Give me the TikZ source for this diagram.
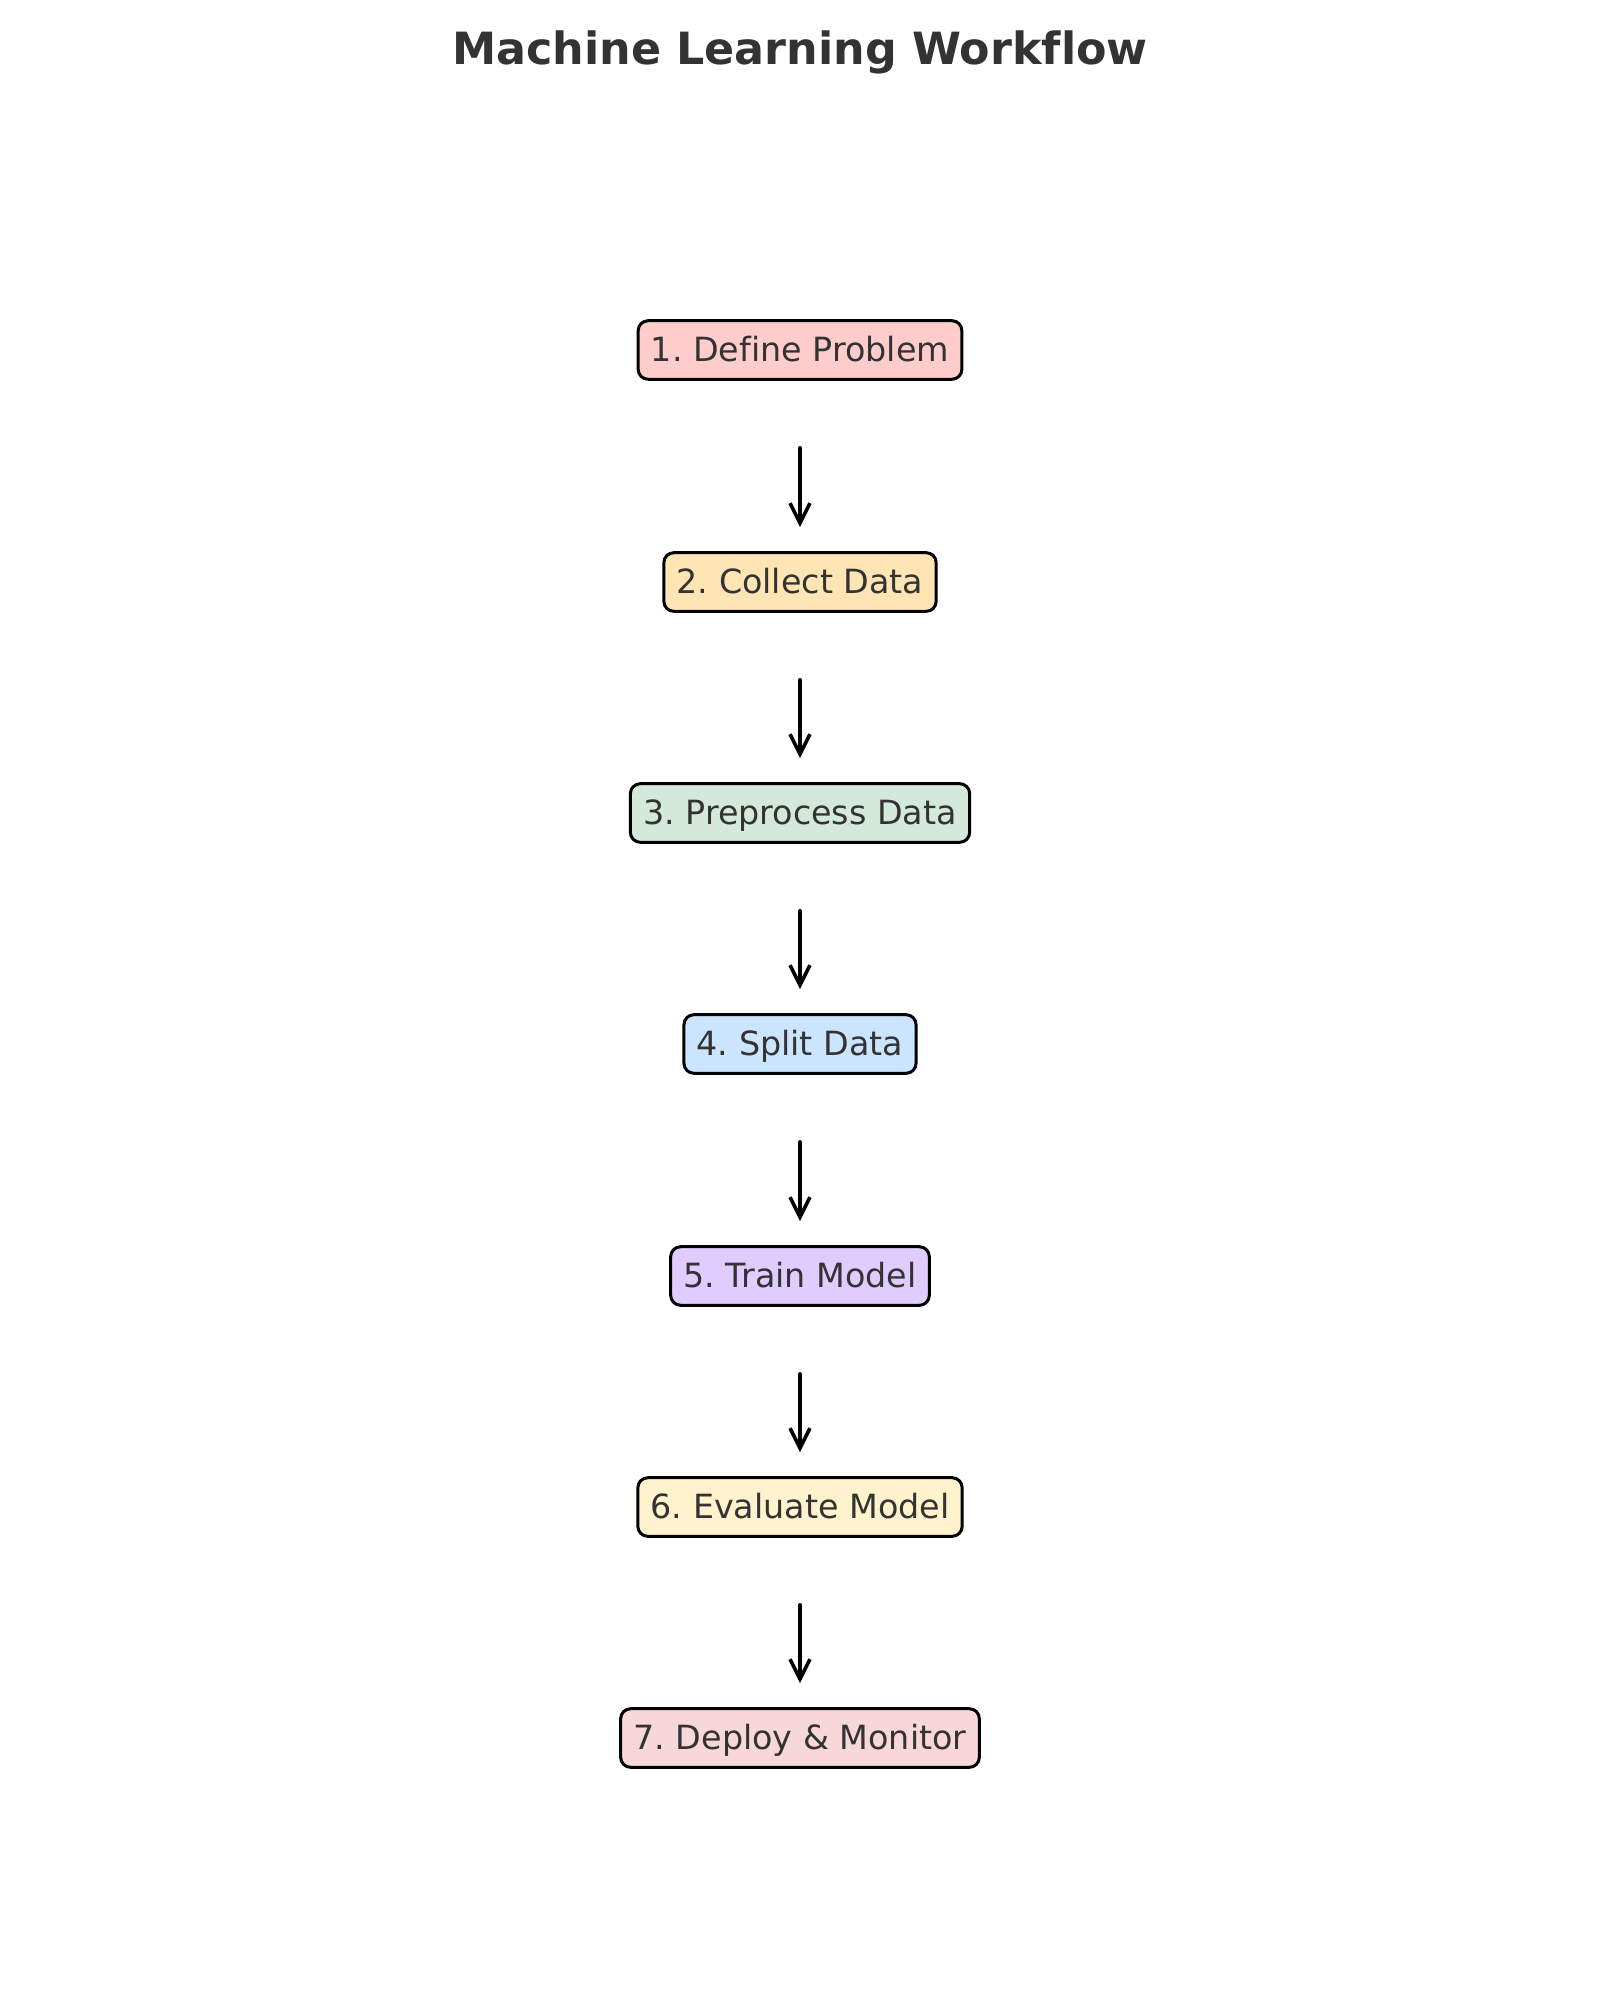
\documentclass[tikz,border=0pt]{standalone}
\usepackage{fontspec}
\setmainfont[Ligatures={NoCommon}]{DejaVu Sans}
\usetikzlibrary{arrows.meta}
\frenchspacing
\definecolor{ink}{HTML}{333333}
\definecolor{cdefine}{HTML}{FFCCCC}
\definecolor{ccollect}{HTML}{FFE5B4}
\definecolor{cprep}{HTML}{D5E8DC}
\definecolor{csplit}{HTML}{CCE5FF}
\definecolor{ctrain}{HTML}{E0CCFF}
\definecolor{ceval}{HTML}{FFF2CC}
\definecolor{cdeploy}{HTML}{F8D7DA}
\tikzset{
  stepbox/.style={draw=black, line width=1.5pt, rounded corners=5pt,
    inner xsep=6.4pt, inner ysep=5pt, text=ink,
    font=\fontsize{16.67pt}{20pt}\selectfont,
    text height=15.4pt, text depth=3.9pt},
  flow/.style={draw=black, line width=1.8pt, line cap=round,
    -{Straight Barb[length=10pt,width=10pt,line width=1.8pt]},
    shorten <=33.5pt, shorten >=12pt}
}
\begin{document}
\begin{tikzpicture}[x=0.5pt,y=-0.5pt]
  \useasboundingbox (0,0) rectangle (1600,2000);
  \node[anchor=base, text=ink, font=\bfseries\fontsize{22.2pt}{26pt}\selectfont]
    (title) at (800,65) {Machine Learning Workflow};
  \node[stepbox, fill=cdefine]  (s1) at (800,350)  {1. Define Problem};
  \node[stepbox, fill=ccollect] (s2) at (800,582)  {2. Collect Data};
  \node[stepbox, fill=cprep]    (s3) at (800,813)  {3. Preprocess Data};
  \node[stepbox, fill=csplit]   (s4) at (800,1044) {4. Split Data};
  \node[stepbox, fill=ctrain]   (s5) at (800,1276) {5. Train Model};
  \node[stepbox, fill=ceval]    (s6) at (800,1507) {6. Evaluate Model};
  \node[stepbox, fill=cdeploy]  (s7) at (800,1738) {7. Deploy \& Monitor};
  \foreach \a/\b in {s1/s2,s2/s3,s3/s4,s4/s5,s5/s6,s6/s7}
    \draw[flow] (\a.south) -- (\b.north);
\end{tikzpicture}
\end{document}
